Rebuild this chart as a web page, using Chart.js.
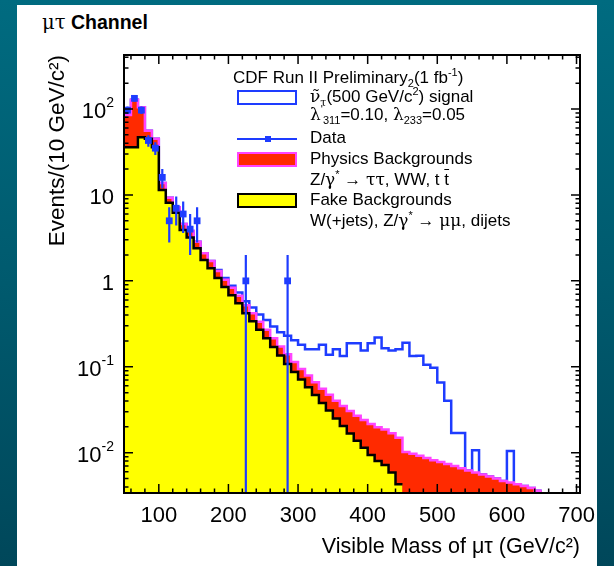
<!DOCTYPE html>
<html>
<head>
<meta charset="utf-8">
<script src="https://cdn.jsdelivr.net/npm/chart.js@4.4.1/dist/chart.umd.min.js"></script>
<style>
  html, body { margin: 0; padding: 0; }
  body {
    width: 614px; height: 566px; overflow: hidden; position: relative;
    background: linear-gradient(to bottom, #006b80 0%, #005a6e 50%, #00475a 100%);
    font-family: "Liberation Sans", Arial, sans-serif;
  }
  #panel { position: absolute; left: 17px; top: 5px; width: 580px; height: 561px; background: #fff; }
  #title { position: absolute; left: 42px; top: 11px; font-size: 19.5px; font-weight: bold; color: #000; }
  #title .greek, .greek { font-weight: normal; font-family: "DejaVu Serif", "Liberation Serif", serif; }
  #chart { position: absolute; left: 0; top: 0; }
  #legend { position: absolute; left: 0; top: 0; width: 614px; height: 566px; font-size: 17px; color: #000; }
  .row { position: absolute; white-space: nowrap; line-height: 17px; }
  .row sub, .row sup { font-size: 11px; line-height: 0; }
  .box { position: absolute; box-sizing: border-box; }
  .over { text-decoration: overline; }
</style>
</head>
<body>
<div id="panel"></div>
<div id="title"><span class="greek">μτ</span> Channel</div>
<canvas id="chart" width="614" height="566"></canvas>
<div id="legend">
  <div class="row" style="left:233px; top:69px;">CDF Run II Preliminary<sub>2</sub>(1 fb<sup>-1</sup>)</div>
  <div class="box" style="left:237px; top:90px; width:60px; height:15px; border:2.5px solid #1e3cff; background:#fff;"></div>
  <div class="row" style="left:310px; top:88px;"><span class="greek">ν̃</span><sub class="greek">τ</sub>(500 GeV/c<sup>2</sup>) signal</div>
  <div class="row" style="left:310px; top:106px;"><span class="greek">λ</span><sup>'</sup><sub>311</sub>=0.10, <span class="greek">λ</span><sub>233</sub>=0.05</div>
  <div class="box" style="left:237px; top:138px; width:60px; height:2px; background:#1e3cff;"></div>
  <div class="box" style="left:265px; top:136px; width:6px; height:6px; background:#1e3cff;"></div>
  <div class="row" style="left:310px; top:129px;">Data</div>
  <div class="box" style="left:237px; top:152px; width:60px; height:15px; border:2px solid #ff44ff; background:#ff2a00;"></div>
  <div class="row" style="left:310px; top:150px;">Physics Backgrounds</div>
  <div class="row" style="left:310px; top:171px;">Z/<span class="greek">γ</span><sup>*</sup> → <span class="greek">ττ</span>, WW, t <span class="over">t</span></div>
  <div class="box" style="left:237px; top:193px; width:60px; height:15px; border:2.5px solid #000; background:#ffff00;"></div>
  <div class="row" style="left:310px; top:191px;">Fake Backgrounds</div>
  <div class="row" style="left:310px; top:212px;">W(+jets), Z/<span class="greek">γ</span><sup>*</sup> → <span class="greek">μμ</span>, dijets</div>
</div>
<script>
// lower edges of the 10 GeV bins; the last bin ends at 650
const binLow = [50, 60, 70, 80, 90, 100, 110, 120, 130, 140, 150, 160, 170, 180, 190,
  200, 210, 220, 230, 240, 250, 260, 270, 280, 290, 300, 310, 320, 330, 340,
  350, 360, 370, 380, 390, 400, 410, 420, 430, 440, 450, 460, 470, 480, 490,
  500, 510, 520, 530, 540, 550, 560, 570, 580, 590, 600, 610, 620, 630, 640];
const binEnd = 650;

// W(+jets), Z->mumu, dijets
const fakeBkg = [36, 36, 47, 45, 36, 11.4, 8.1, 6.2, 3.9, 3.2, 2.4, 1.75, 1.4, 1.08, 0.85,
  0.68, 0.55, 0.42, 0.34, 0.27, 0.215, 0.17, 0.135, 0.108, 0.087, 0.071, 0.058, 0.047, 0.038, 0.031,
  0.025, 0.0205, 0.0168, 0.0138, 0.0114, 0.0094, 0.008, 0.0072, 0.0059, 0.0043, 0, 0, 0, 0, 0,
  0, 0, 0, 0, 0, 0, 0, 0, 0, 0, 0, 0, 0, 0, 0];

// Z->tautau, WW, ttbar (stacked on the fakes)
const physicsBkg = [49, 92, 58, 11, 9, 2.4, 1.2, 1.0, 0.7, 0.6, 0.45, 0.35, 0.3, 0.22, 0.18,
  0.15, 0.12, 0.1, 0.08, 0.065, 0.055, 0.045, 0.037, 0.032, 0.027, 0.023, 0.021, 0.019, 0.0175, 0.0163,
  0.0153, 0.0145, 0.0138, 0.0132, 0.0127, 0.0122, 0.0118, 0.0114, 0.011, 0.0106, 0.0102, 0.0097, 0.0092, 0.0087, 0.0082,
  0.0078, 0.0074, 0.007, 0.0066, 0.0062, 0.0059, 0.0056, 0.0053, 0.005, 0.0047, 0.0045, 0.0043, 0.0041, 0.0039, 0.0036];

// sneutrino 500 GeV signal (drawn on top of the backgrounds)
const signal = [0, 0, 0, 0, 0, 0, 0, 0, 0, 0, 0, 0, 0, 0.04, 0.05,
  0.05, 0.06, 0.06, 0.07, 0.07, 0.08, 0.08, 0.08, 0.09, 0.09, 0.086, 0.081, 0.094, 0.125, 0.091,
  0.12, 0.099, 0.157, 0.161, 0.131, 0.166, 0.2, 0.146, 0.138, 0.145, 0.18, 0.124, 0.125, 0.097, 0.089,
  0.058, 0.033, 0.01, 0.0104, 0, 0.0048, 0, 0, 0, 0, 0.006, 0, 0, 0, 0];

// observed events and their errors (empty bins are null)
const dataCounts = [97, 133, 97, 43, 35, 16, 5, 7, 6, 4, 5, null, null, null, null,
  null, null, 1, null, null, null, null, null, 1, null];
const dataErr = [9.8, 11.5, 9.8, 6.6, 5.9, 4, 2.2, 2.6, 2.4, 2, 2.2, null, null, null, null,
  null, null, 1, null, null, null, null, null, 1, null];

const xTickValues = [100, 200, 300, 400, 500, 600, 700];
const yTickValues = [100, 10, 1, 0.1, 0.01];
const yTickBase = ['10', '10', '1', '10', '10'];
const yTickExp = ['2', '', '', '-1', '-2'];

const FONT = '"Liberation Sans", Arial, sans-serif';
const BLUE = '#1e3cff';

function histPoints(values) {
  let last = values.length - 1;
  while (last > 0 && !values[last]) last--;
  const pts = [];
  for (let i = 0; i <= last; i++) pts.push({ x: binLow[i], y: values[i] });
  const edge = last + 1 < binLow.length ? binLow[last + 1] : binEnd;
  pts.push({ x: edge, y: values[last] });
  pts.push({ x: edge, y: 0 });
  return pts;
}

const totalBkg = binLow.map((_, i) => fakeBkg[i] + physicsBkg[i]);
const signalStack = binLow.map((_, i) => totalBkg[i] + signal[i]);
const dataPoints = dataCounts.map((n, i) => (n == null ? null : { x: binLow[i] + 5, y: n, err: dataErr[i] }))
  .filter(p => p);

const histo = (color, width) => ({
  borderColor: color, borderWidth: width, pointRadius: 0, stepped: true, tension: 0
});

const errorBars = {
  id: 'errorBars',
  afterDatasetsDraw(chart) {
    const { ctx, chartArea: a, scales: { x, y } } = chart;
    ctx.save();
    ctx.strokeStyle = BLUE;
    ctx.lineWidth = 2.2;
    ctx.beginPath();
    dataPoints.forEach(p => {
      const px = x.getPixelForValue(p.x);
      const lo = p.y - p.err;
      const yLo = lo > 0 ? y.getPixelForValue(lo) : a.bottom;
      ctx.moveTo(px, yLo);
      ctx.lineTo(px, y.getPixelForValue(p.y + p.err));
    });
    ctx.stroke();
    ctx.restore();
  }
};

const frame = {
  id: 'frame',
  afterDatasetsDraw(chart) {
    const { ctx, chartArea: a, scales: { x, y } } = chart;
    ctx.save();
    ctx.strokeStyle = '#000';
    ctx.lineWidth = 1.5;
    ctx.beginPath();
    for (let v = 60; v <= 700; v += 20) {
      const px = x.getPixelForValue(v);
      const len = v % 100 === 0 ? 9 : 4.5;
      ctx.moveTo(px, a.bottom); ctx.lineTo(px, a.bottom - len);
      ctx.moveTo(px, a.top); ctx.lineTo(px, a.top + len);
    }
    for (let e = -3; e <= 2; e++) {
      for (let m = 1; m <= 9; m++) {
        const v = m * Math.pow(10, e);
        if (v < y.min || v > y.max) continue;
        const py = y.getPixelForValue(v);
        const len = m === 1 ? 9 : 4.5;
        ctx.moveTo(a.left, py); ctx.lineTo(a.left + len, py);
        ctx.moveTo(a.right, py); ctx.lineTo(a.right - len, py);
      }
    }
    ctx.stroke();
    ctx.lineWidth = 2;
    ctx.strokeRect(a.left, a.top, a.right - a.left, a.bottom - a.top);

    // y tick labels with superscript exponents
    ctx.fillStyle = '#000';
    ctx.textBaseline = 'middle';
    ctx.textAlign = 'left';
    yTickValues.forEach((v, i) => {
      const py = y.getPixelForValue(v) + 3;
      ctx.font = '14px ' + FONT;
      const ew = ctx.measureText(yTickExp[i]).width;
      ctx.font = '22px ' + FONT;
      const bw = ctx.measureText(yTickBase[i]).width;
      const right = 114;
      ctx.fillText(yTickBase[i], right - ew - bw, py);
      if (yTickExp[i]) {
        ctx.font = '14px ' + FONT;
        ctx.fillText(yTickExp[i], right - ew, py - 9);
      }
    });
    ctx.restore();
  }
};

new Chart(document.getElementById('chart'), {
  type: 'line',
  data: {
    datasets: [
      {
        data: dataPoints, showLine: false, pointStyle: 'rect', pointRadius: 4.8,
        pointBackgroundColor: BLUE, pointBorderColor: BLUE, pointBorderWidth: 0
      },
      Object.assign(histo('#000', 2.5), { data: histPoints(fakeBkg), fill: 'start', backgroundColor: '#ffff00' }),
      Object.assign(histo('#ff44ff', 2.5), { data: histPoints(totalBkg), fill: 'start', backgroundColor: '#ff2a00' }),
      Object.assign(histo(BLUE, 2.5), { data: histPoints(signalStack), fill: false })
    ]
  },
  options: {
    responsive: false,
    animation: false,
    layout: { padding: { top: 55, right: 34, left: 0, bottom: 0 } },
    plugins: { legend: { display: false }, tooltip: { enabled: false } },
    scales: {
      x: {
        type: 'linear', min: 50, max: 705,
        afterFit: s => { s.height = 73; },
        afterBuildTicks: s => { s.ticks = xTickValues.map(v => ({ value: v })); },
        grid: { display: false, drawTicks: false },
        border: { display: false },
        ticks: { font: { size: 22, family: FONT }, color: '#000', padding: 10, maxRotation: 0, autoSkip: false },
        title: {
          display: true, text: 'Visible Mass of μτ (GeV/c²)', align: 'end', color: '#000',
          font: { size: 21.5, family: FONT }, padding: { top: 0, bottom: 6 }
        }
      },
      y: {
        type: 'logarithmic', min: 0.0034, max: 425,
        afterFit: s => { s.width = 124; },
        ticks: { display: false },
        grid: { display: false, drawTicks: false },
        border: { display: false },
        title: {
          display: true, text: 'Events/(10 GeV/c²)', align: 'end', color: '#000',
          font: { size: 22.5, family: FONT }, padding: { top: 44, bottom: 0 }
        }
      }
    }
  },
  plugins: [errorBars, frame]
});
</script>
</body>
</html>
